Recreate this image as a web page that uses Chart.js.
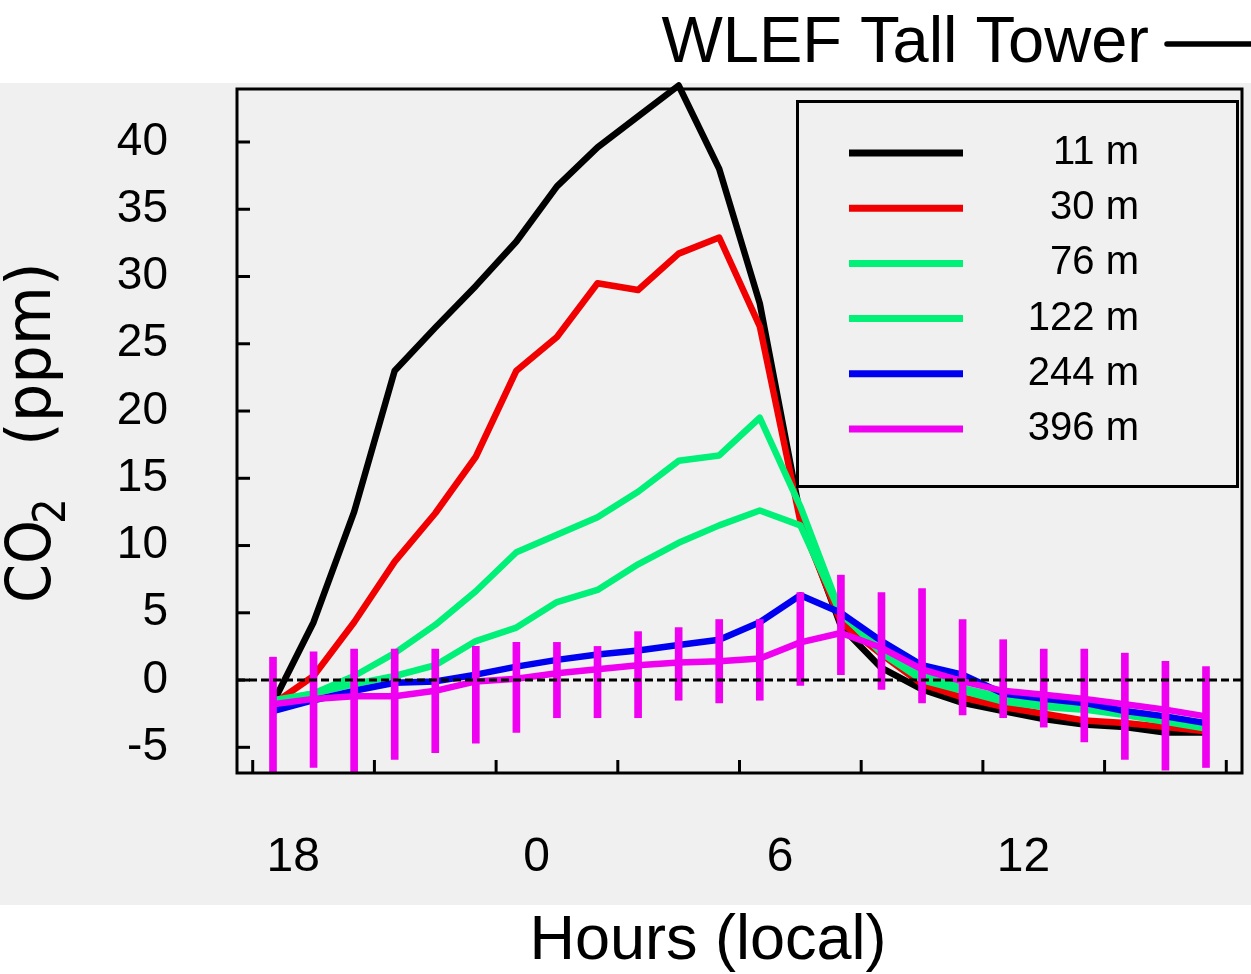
<!DOCTYPE html>
<html>
<head>
<meta charset="utf-8">
<script src="https://cdn.jsdelivr.net/npm/chart.js"></script>
<style>
  body { margin: 0; background: #ffffff; }
  canvas { display: block; }
</style>
</head>
<body>
<canvas id="torre" width="1251" height="974"></canvas>
<script>
// hora local de cada media horaria (las 0h se escriben como 24)
const horas = [17.5, 18.5, 19.5, 20.5, 21.5, 22.5, 23.5, 24.5, 25.5, 26.5, 27.5, 28.5,
  29.5, 30.5, 31.5, 32.5, 33.5, 34.5, 35.5, 36.5, 37.5, 38.5, 39.5, 40.5];

// CO2 (ppm) por altura
const co2_11m = [-1.7, 4.3, 12.5, 23.0, 26.2, 29.3, 32.6, 36.7, 39.6, 41.9, 44.2, 38.0,
  28.0, 12.2, 4.0, 0.9, -0.7, -1.7, -2.3, -2.9, -3.3, -3.5, -3.9, -3.9];
const co2_30m = [-1.8, 0.3, 4.3, 8.8, 12.4, 16.6, 23.0, 25.5, 29.5, 29.0, 31.7, 32.9,
  26.3, 11.8, 4.3, 1.9, -0.3, -1.3, -2.0, -2.5, -3.0, -3.2, -3.5, -3.8];
const co2_76m = [-1.5, -1.0, 0.3, 2.0, 4.1, 6.6, 9.5, 10.8, 12.1, 14.0, 16.3, 16.7,
  19.5, 12.9, 5.0, 2.0, 0.0, -0.8, -1.6, -2.0, -2.2, -2.6, -3.1, -3.6];
const co2_122m = [-1.6, -1.0, -0.3, 0.3, 1.1, 2.9, 3.9, 5.8, 6.7, 8.6, 10.2, 11.5,
  12.6, 11.5, 4.9, 2.2, 0.4, -0.6, -1.3, -1.8, -2.1, -2.4, -2.9, -3.3];
const co2_244m = [-2.3, -1.5, -0.8, -0.2, -0.1, 0.4, 1.0, 1.5, 1.9, 2.2, 2.6, 3.0,
  4.3, 6.3, 5.0, 2.9, 1.1, 0.4, -1.0, -1.4, -1.7, -2.3, -2.7, -3.2];
const co2_396m = [-1.8, -1.4, -1.2, -1.2, -0.8, -0.1, 0.1, 0.5, 0.8, 1.1, 1.3, 1.4,
  1.6, 2.8, 3.5, 2.4, 0.8, -0.1, -0.8, -1.1, -1.4, -1.8, -2.2, -2.7];

// barras de error del nivel 396 m
const err396Bajo = [-7.5, -6.5, -7.5, -5.9, -5.4, -4.7, -3.9, -2.8, -2.8, -2.8, -1.5, -1.7,
  -1.5, -0.4, 0.4, -0.7, -1.7, -2.6, -2.8, -3.5, -4.6, -5.9, -6.7, -6.5];
const err396Alto = [1.7, 2.1, 2.3, 2.3, 2.3, 2.5, 2.8, 2.8, 2.5, 3.6, 3.9, 4.5,
  4.5, 6.5, 7.8, 6.5, 6.8, 4.5, 3.0, 2.3, 2.3, 2.0, 1.4, 1.0];

const niveles = ["11 m", "30 m", "76 m", "122 m", "244 m", "396 m"];
const colores = ["#000000", "#f00000", "#00f078", "#00f078", "#0000f0", "#f000f0"];

// ejes
const yTicks = [-5, 0, 5, 10, 15, 20, 25, 30, 35, 40];
const xLabelHoras = [18, 24, 30, 36];
const xLabels = ["18", "0", "6", "12"];
const xMarcas = [17, 20, 23, 26, 29, 32, 35, 38, 41];

const series = [co2_11m, co2_30m, co2_76m, co2_122m, co2_244m, co2_396m];

const datasets = series.map((serie, i) => ({
  type: "line",
  label: niveles[i],
  data: serie.map((v, j) => ({ x: horas[j], y: v })),
  borderColor: colores[i],
  backgroundColor: colores[i],
  borderWidth: 6.5,
  borderJoinStyle: "round",
  pointRadius: 0,
  fill: false,
  clip: false,
  order: 10 - i,
}));

datasets.push({
  type: "bar",
  label: "error 396 m",
  data: horas.map((h, j) => ({ x: h, y: [err396Bajo[j], err396Alto[j]] })),
  backgroundColor: "#f000f0",
  borderWidth: 0,
  barThickness: 7,
  grouped: false,
  order: 1,
});

//fondo gris y titulos
const fondo = {
  id: "fondo",
  beforeDraw(chart) {
    const ctx = chart.ctx;
    ctx.save();
    ctx.fillStyle = "#ffffff";
    ctx.fillRect(0, 0, chart.width, chart.height);
    ctx.fillStyle = "#f0f0f0";
    ctx.fillRect(0, 83, chart.width, 822);
    ctx.restore();
  },
  afterDraw(chart) {
    const ctx = chart.ctx;
    ctx.save();
    ctx.fillStyle = "#000";
    ctx.strokeStyle = "#000";
    ctx.textBaseline = "alphabetic";

    ctx.font = "65px 'Liberation Sans', Arial, sans-serif";
    ctx.textAlign = "right";
    ctx.fillText("WLEF Tall Tower", 1149, 62);
    ctx.lineWidth = 5.5;
    ctx.lineCap = "round";
    ctx.beginPath();
    ctx.moveTo(1167, 44);
    ctx.lineTo(1262, 44);
    ctx.stroke();

    ctx.font = "63px 'Liberation Sans', Arial, sans-serif";
    ctx.textAlign = "center";
    ctx.fillText("Hours (local)", 708, 959);

    // titulo del eje y, rotado
    ctx.translate(50, 0);
    ctx.rotate(-Math.PI / 2);
    ctx.textAlign = "left";
    ctx.save();
    ctx.scale(0.9, 1);
    ctx.font = "62px 'DejaVu Sans', sans-serif";
    ctx.fillText("CO", -603 / 0.9, 0);
    ctx.font = "45px 'DejaVu Sans', sans-serif";
    ctx.fillText("2", -524 / 0.9, 15);
    ctx.restore();
    ctx.scale(0.98, 1);
    ctx.font = "62px 'DejaVu Sans', sans-serif";
    ctx.fillText("(ppm)", -446 / 0.98, 0);
    ctx.restore();
  },
};

//marco, marcas, linea de cero y leyenda
const marco = {
  id: "marco",
  afterDatasetsDraw(chart) {
    const { ctx, chartArea: a, scales } = chart;
    const linea = (x1, y1, x2, y2) => {
      ctx.beginPath();
      ctx.moveTo(x1, y1);
      ctx.lineTo(x2, y2);
      ctx.stroke();
    };
    ctx.save();
    ctx.strokeStyle = "#000";
    ctx.lineWidth = 3;

    const y0 = scales.y.getPixelForValue(0);
    ctx.setLineDash([8, 4]);
    linea(a.left, y0, a.right, y0);
    ctx.setLineDash([]);

    ctx.strokeRect(a.left, a.top, a.right - a.left, a.bottom - a.top);
    yTicks.forEach((v) => {
      const p = scales.y.getPixelForValue(v);
      linea(a.left, p, a.left + 13, p);
    });
    xMarcas.forEach((h) => {
      const p = scales.x.getPixelForValue(h);
      linea(p, a.bottom, p, a.bottom - 13);
    });

    // leyenda
    ctx.fillStyle = "#f0f0f0";
    ctx.fillRect(797, 101, 441, 386);
    ctx.strokeRect(797.5, 101.5, 440, 385);
    ctx.font = "40px 'Liberation Sans', Arial, sans-serif";
    ctx.textAlign = "right";
    ctx.textBaseline = "alphabetic";
    chart.data.datasets.slice(0, 6).forEach((ds, i) => {
      const yl = 153 + i * 55.2;
      ctx.strokeStyle = ds.borderColor;
      ctx.lineWidth = 7;
      linea(849, yl, 963, yl);
      ctx.fillStyle = "#000";
      ctx.fillText(ds.label, 1139, yl + 11);
    });
    ctx.restore();
  },
};

new Chart(document.getElementById("torre"), {
  type: "line",
  data: { datasets: datasets },
  options: {
    responsive: false,
    animation: false,
    events: [],
    layout: { padding: { top: 89, right: 9, bottom: 0, left: 0 } },
    plugins: {
      legend: { display: false },
      tooltip: { enabled: false },
    },
    scales: {
      x: {
        type: "linear",
        position: "bottom",
        min: 16.6126,
        max: 41.3875,
        offset: false,
        grid: { display: false, drawTicks: false },
        border: { display: false },
        afterBuildTicks: (eje) => {
          eje.ticks = xLabelHoras.map((v) => ({ value: v }));
        },
        afterFit: (eje) => {
          eje.height = 201;
          eje.paddingLeft = 0;
          eje.paddingRight = 0;
        },
        ticks: {
          autoSkip: false,
          maxRotation: 0,
          padding: 56,
          color: "#000",
          font: { family: "'Liberation Sans', Arial, sans-serif", size: 48 },
          callback: (v, i) => xLabels[i],
        },
      },
      y: {
        type: "linear",
        min: -6.91,
        max: 43.94,
        grid: { display: false, drawTicks: false },
        border: { display: false },
        afterBuildTicks: (eje) => {
          eje.ticks = yTicks.map((v) => ({ value: v }));
        },
        afterFit: (eje) => {
          eje.width = 237;
          eje.paddingTop = 0;
          eje.paddingBottom = 0;
        },
        ticks: {
          padding: 69,
          color: "#000",
          font: { family: "'Liberation Sans', Arial, sans-serif", size: 46 },
        },
      },
    },
  },
  plugins: [fondo, marco],
});
</script>
</body>
</html>
